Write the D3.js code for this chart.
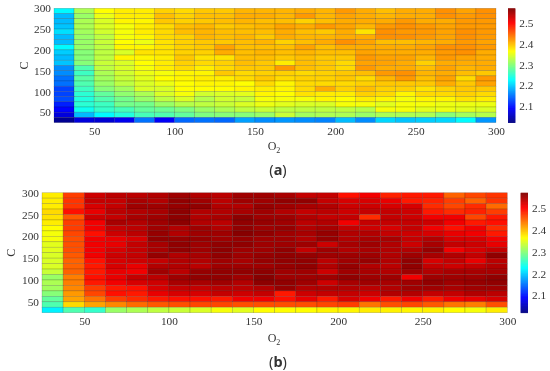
<!DOCTYPE html>
<html><head><meta charset="utf-8">
<script src="https://cdnjs.cloudflare.com/ajax/libs/d3/7.8.5/d3.min.js"></script>
<style>html,body{margin:0;padding:0;background:#fff}svg{display:block;filter:blur(0.35px)}
text{font-family:"Liberation Serif",serif;fill:#333}</style></head><body>
<script>
const xEdges = [25,37.5,50,62.5,75,87.5,100,112.5,125,137.5,150,162.5,175,187.5,200,212.5,225,237.5,250,262.5,275,287.5];
const yEdges = [287.5,275,262.5,250,237.5,225,212.5,200,187.5,175,162.5,150,137.5,125,112.5,100,87.5,75,62.5,50,37.5,25];
const xTicks = [50,100,150,200,250,300];
const yTicks = [50,100,150,200,250,300];
const cTicks = [2.1,2.2,2.3,2.4,2.5];
const panelA = [
[2.225,2.32,2.365,2.375,2.375,2.39,2.385,2.395,2.395,2.405,2.405,2.405,2.41,2.405,2.42,2.41,2.40,2.41,2.41,2.425,2.415,2.425],
[2.19,2.31,2.355,2.375,2.375,2.40,2.39,2.40,2.40,2.41,2.41,2.405,2.42,2.405,2.415,2.41,2.405,2.41,2.41,2.425,2.42,2.425],
[2.19,2.32,2.345,2.37,2.37,2.395,2.39,2.395,2.40,2.405,2.40,2.40,2.39,2.40,2.41,2.41,2.41,2.42,2.41,2.41,2.42,2.42],
[2.195,2.32,2.345,2.36,2.375,2.385,2.40,2.405,2.395,2.40,2.405,2.415,2.41,2.42,2.415,2.405,2.42,2.425,2.42,2.415,2.42,2.42],
[2.21,2.315,2.34,2.36,2.375,2.385,2.40,2.405,2.40,2.40,2.40,2.41,2.40,2.395,2.41,2.38,2.425,2.42,2.42,2.415,2.425,2.42],
[2.19,2.31,2.33,2.36,2.37,2.385,2.39,2.405,2.40,2.405,2.395,2.41,2.405,2.405,2.41,2.41,2.425,2.425,2.42,2.415,2.425,2.42],
[2.19,2.31,2.335,2.365,2.355,2.38,2.39,2.395,2.395,2.40,2.405,2.39,2.40,2.41,2.425,2.415,2.40,2.40,2.405,2.41,2.42,2.415],
[2.225,2.31,2.33,2.37,2.37,2.38,2.39,2.395,2.415,2.40,2.40,2.40,2.415,2.40,2.41,2.41,2.41,2.41,2.415,2.425,2.425,2.42],
[2.20,2.30,2.33,2.345,2.38,2.38,2.39,2.39,2.41,2.40,2.405,2.40,2.405,2.40,2.40,2.415,2.41,2.41,2.41,2.42,2.425,2.41],
[2.19,2.30,2.33,2.37,2.37,2.375,2.395,2.38,2.38,2.40,2.40,2.395,2.40,2.395,2.395,2.42,2.415,2.415,2.405,2.42,2.415,2.41],
[2.195,2.30,2.335,2.345,2.365,2.375,2.39,2.385,2.39,2.40,2.395,2.375,2.40,2.395,2.385,2.415,2.415,2.41,2.39,2.41,2.41,2.41],
[2.165,2.27,2.33,2.345,2.36,2.375,2.385,2.375,2.385,2.395,2.395,2.42,2.40,2.395,2.385,2.42,2.41,2.41,2.40,2.415,2.405,2.41],
[2.165,2.26,2.32,2.34,2.355,2.36,2.37,2.37,2.395,2.385,2.39,2.39,2.385,2.39,2.395,2.40,2.42,2.425,2.405,2.41,2.40,2.395],
[2.15,2.275,2.315,2.335,2.35,2.365,2.37,2.375,2.375,2.385,2.395,2.385,2.39,2.39,2.395,2.385,2.405,2.42,2.40,2.415,2.385,2.42],
[2.15,2.27,2.31,2.33,2.345,2.355,2.365,2.37,2.37,2.365,2.385,2.37,2.385,2.385,2.385,2.39,2.395,2.395,2.395,2.41,2.395,2.415],
[2.125,2.26,2.30,2.315,2.345,2.345,2.365,2.365,2.365,2.37,2.375,2.37,2.385,2.41,2.39,2.40,2.39,2.39,2.38,2.39,2.395,2.395],
[2.125,2.25,2.28,2.305,2.32,2.345,2.36,2.34,2.345,2.35,2.37,2.365,2.38,2.375,2.375,2.39,2.385,2.37,2.385,2.385,2.39,2.385],
[2.13,2.245,2.27,2.29,2.31,2.33,2.345,2.325,2.34,2.335,2.36,2.36,2.36,2.37,2.365,2.375,2.37,2.36,2.37,2.37,2.38,2.375],
[2.105,2.25,2.26,2.29,2.29,2.31,2.325,2.33,2.335,2.345,2.355,2.35,2.345,2.345,2.36,2.36,2.35,2.36,2.36,2.355,2.355,2.355],
[2.09,2.235,2.255,2.265,2.28,2.285,2.295,2.31,2.32,2.33,2.335,2.33,2.33,2.33,2.33,2.325,2.36,2.36,2.35,2.355,2.35,2.345],
[2.07,2.19,2.225,2.245,2.265,2.27,2.28,2.295,2.30,2.30,2.31,2.335,2.315,2.32,2.32,2.31,2.32,2.32,2.32,2.30,2.315,2.325],
[2.03,2.07,2.065,2.08,2.15,2.085,2.145,2.15,2.145,2.175,2.165,2.17,2.165,2.16,2.19,2.165,2.205,2.195,2.20,2.205,2.225,2.17]
];
const panelB = [
[2.375,2.47,2.53,2.54,2.54,2.545,2.555,2.545,2.54,2.555,2.555,2.55,2.535,2.535,2.495,2.51,2.485,2.49,2.49,2.45,2.465,2.475],
[2.375,2.475,2.535,2.535,2.55,2.545,2.563,2.555,2.54,2.555,2.555,2.563,2.563,2.535,2.525,2.525,2.515,2.49,2.485,2.47,2.45,2.475],
[2.375,2.475,2.525,2.535,2.555,2.555,2.56,2.563,2.545,2.545,2.56,2.555,2.55,2.545,2.53,2.53,2.525,2.525,2.48,2.465,2.48,2.445],
[2.385,2.495,2.515,2.54,2.545,2.55,2.565,2.545,2.545,2.55,2.555,2.545,2.535,2.54,2.53,2.535,2.535,2.53,2.49,2.48,2.485,2.47],
[2.38,2.455,2.53,2.535,2.55,2.555,2.565,2.545,2.55,2.565,2.555,2.555,2.545,2.535,2.535,2.48,2.535,2.53,2.51,2.51,2.465,2.49],
[2.375,2.47,2.51,2.55,2.545,2.555,2.565,2.545,2.54,2.563,2.56,2.555,2.54,2.545,2.51,2.535,2.535,2.535,2.53,2.51,2.49,2.495],
[2.365,2.47,2.51,2.535,2.54,2.555,2.545,2.555,2.545,2.563,2.555,2.56,2.545,2.55,2.535,2.53,2.525,2.535,2.51,2.495,2.51,2.48],
[2.36,2.465,2.495,2.53,2.54,2.56,2.545,2.555,2.555,2.568,2.563,2.555,2.55,2.56,2.545,2.545,2.535,2.53,2.525,2.515,2.51,2.49],
[2.36,2.46,2.51,2.515,2.525,2.563,2.56,2.56,2.555,2.56,2.555,2.555,2.545,2.56,2.545,2.55,2.55,2.535,2.545,2.525,2.525,2.51],
[2.35,2.46,2.51,2.515,2.535,2.55,2.563,2.555,2.563,2.563,2.555,2.555,2.555,2.53,2.55,2.555,2.545,2.53,2.55,2.535,2.53,2.515],
[2.35,2.46,2.51,2.525,2.535,2.55,2.563,2.555,2.565,2.555,2.555,2.563,2.535,2.555,2.545,2.55,2.545,2.545,2.56,2.51,2.525,2.535],
[2.345,2.455,2.51,2.53,2.535,2.56,2.545,2.55,2.563,2.555,2.56,2.563,2.56,2.555,2.555,2.555,2.545,2.555,2.55,2.545,2.535,2.563],
[2.345,2.45,2.495,2.525,2.53,2.535,2.545,2.545,2.555,2.55,2.56,2.563,2.563,2.54,2.555,2.56,2.545,2.563,2.525,2.535,2.515,2.54],
[2.345,2.45,2.49,2.525,2.515,2.545,2.545,2.54,2.555,2.555,2.555,2.56,2.563,2.545,2.56,2.545,2.54,2.563,2.535,2.53,2.535,2.545],
[2.335,2.45,2.49,2.515,2.51,2.555,2.54,2.56,2.563,2.563,2.565,2.555,2.555,2.53,2.555,2.55,2.545,2.555,2.545,2.55,2.55,2.55],
[2.31,2.435,2.495,2.515,2.535,2.54,2.555,2.563,2.563,2.555,2.568,2.555,2.555,2.555,2.563,2.555,2.555,2.51,2.555,2.555,2.555,2.563],
[2.32,2.435,2.49,2.51,2.525,2.53,2.55,2.55,2.555,2.545,2.565,2.563,2.555,2.53,2.55,2.555,2.55,2.555,2.563,2.555,2.56,2.563],
[2.315,2.43,2.47,2.49,2.495,2.525,2.535,2.535,2.54,2.54,2.545,2.56,2.545,2.545,2.545,2.54,2.545,2.555,2.555,2.55,2.555,2.555],
[2.30,2.42,2.465,2.495,2.49,2.515,2.525,2.525,2.535,2.53,2.535,2.49,2.53,2.535,2.535,2.53,2.545,2.545,2.535,2.535,2.545,2.54],
[2.28,2.415,2.44,2.47,2.48,2.49,2.495,2.495,2.49,2.51,2.51,2.495,2.515,2.49,2.525,2.51,2.49,2.51,2.49,2.51,2.515,2.525],
[2.27,2.385,2.415,2.43,2.445,2.455,2.46,2.465,2.465,2.46,2.46,2.46,2.46,2.465,2.47,2.44,2.46,2.465,2.455,2.44,2.435,2.46],
[2.22,2.27,2.255,2.31,2.32,2.33,2.335,2.345,2.36,2.35,2.365,2.365,2.365,2.37,2.37,2.375,2.372,2.37,2.372,2.365,2.36,2.375]
];
const jetStops = ["#000080","#0000ff","#00ffff","#ffff00","#ff0000","#800000"];
const jetPos = [0,0.125,0.375,0.625,0.875,1];
const cMin = 2.02, cMax = 2.572, step = 12.5, xMax = 300, yMax = 300;

const svg = d3.select("body").append("svg").attr("width",550).attr("height",371);
const color = d3.scaleLinear().domain(jetPos.map(p=>cMin+p*(cMax-cMin))).range(jetStops).clamp(true);

function panel(o){
  const g = svg.append("g");
  const x = d3.scaleLinear().domain([25,xMax]).range([o.x0,o.x1]);
  const y = d3.scaleLinear().domain([25,yMax]).range([o.y1,o.y0]);
  o.data.forEach((row,i)=>{
    g.append("g").selectAll("rect").data(row).join("rect")
      .attr("x",(d,j)=>x(xEdges[j]))
      .attr("y",y(yEdges[i]+step))
      .attr("width",x(step+25)-x(25))
      .attr("height",y(25)-y(25+step))
      .attr("fill",d=>color(d))
      .attr("stroke","#000").attr("stroke-opacity",0.25).attr("stroke-width",0.6);
  });
  const ax = g.append("g").attr("transform",`translate(0,${o.y1})`)
    .call(d3.axisBottom(x).tickValues(xTicks).tickSize(0).tickPadding(o.xPad));
  const ay = g.append("g").attr("transform",`translate(${o.x0},0)`)
    .call(d3.axisLeft(y).tickValues(yTicks).tickSize(0).tickPadding(3));
  const cy = d3.scaleLinear().domain([cMin,cMax]).range([o.y1,o.y0]);
  const cb = g.append("g");
  cb.selectAll("rect").data(d3.range(cMin,cMax,0.002)).join("rect")
    .attr("x",o.cx0).attr("width",o.cx1-o.cx0)
    .attr("y",d=>cy(d+0.002)).attr("height",d=>cy(d)-cy(d+0.002)+0.4)
    .attr("fill",d=>color(d));
  const ac = g.append("g").attr("transform",`translate(${o.cx1},0)`)
    .call(d3.axisRight(cy).tickValues(cTicks).tickFormat(d3.format(".1f")).tickSize(0).tickPadding(4));
  [ax,ay,ac].forEach(a=>{a.select(".domain").remove();a.selectAll("text").style("font-family",'"Liberation Serif",serif').style("font-size","11.3px").style("fill","#333");});
  const xl = g.append("text").attr("x",274).attr("y",o.xLabY).attr("text-anchor","middle").style("font-size","12px");
  xl.append("tspan").text("O");
  xl.append("tspan").text("2").attr("dy",2.5).style("font-size","8px");
  g.append("text").attr("transform",`translate(${o.yLabX},${(o.y0+o.y1)/2}) rotate(-90)`).attr("text-anchor","middle").style("font-size","12px").text("C");
  const cap = g.append("text").attr("x",278).attr("y",o.capY).attr("text-anchor","middle").style("font-family",'"Noto Sans",sans-serif').style("font-size","14.5px");
  cap.append("tspan").text("(");
  cap.append("tspan").text(o.cap).style("font-weight","bold");
  cap.append("tspan").text(")");
}
panel({data:panelA,x0:54,x1:496,y0:8.3,y1:122.6,cx0:508,cx1:515.3,xPad:4,xLabY:150,yLabX:28,capY:175,cap:"a"});
panel({data:panelB,x0:42,x1:507.3,y0:192.7,y1:312.7,cx0:520.7,cx1:528,xPad:4,xLabY:342,yLabX:15,capY:367,cap:"b"});
</script></body></html>
